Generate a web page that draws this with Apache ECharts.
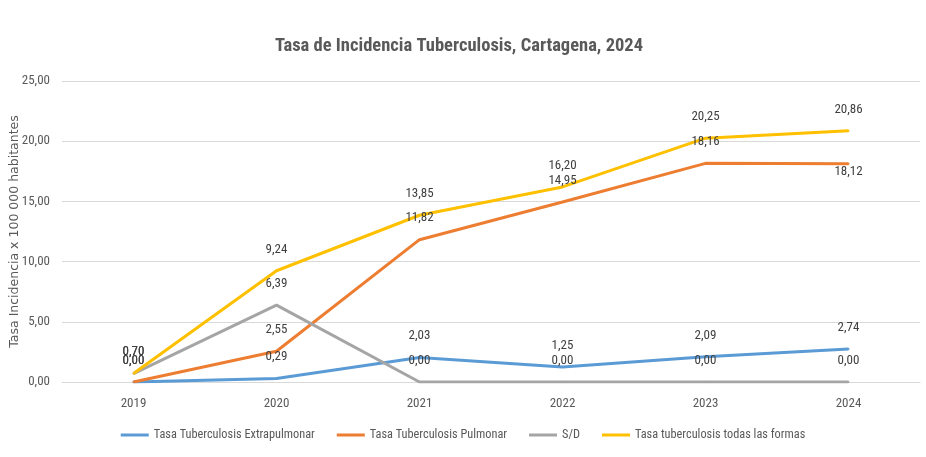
<!DOCTYPE html>
<html>
<head>
<meta charset="utf-8">
<script src="https://cdn.jsdelivr.net/npm/echarts@6/dist/echarts.min.js"></script>
<style>
  * { margin: 0; padding: 0; }
  body { background: #fff; }
</style>
</head>
<body>
<div id="main" style="width: 926px; height: 457px;"></div>
<script>
  // datos
  var years = ['2019', '2020', '2021', '2022', '2023', '2024']
  var extrapulmonar = [0.00, 0.29, 2.03, 1.25, 2.09, 2.74]
  var pulmonar = [0.00, 2.55, 11.82, 14.95, 18.16, 18.12]
  var sinDato = [0.70, 6.39, 0.00, 0.00, 0.00, 0.00]
  var todas = [0.70, 9.24, 13.85, 16.20, 20.25, 20.86]

  var narrow = "'Roboto Condensed', 'Open Sans Condensed', sans-serif"

  function fmt (v) {
    return Number(v).toFixed(2).replace('.', ',')
  }

  function serie (name, data, color) {
    return {
      name: name,
      type: 'line',
      data: data,
      showSymbol: true,
      symbol: 'circle',
      symbolSize: 2,
      lineStyle: { color: color, width: 3 },
      itemStyle: { color: color },
      label: {
        show: true,
        position: 'top',
        distance: 14,
        color: '#404040',
        fontFamily: narrow,
        fontSize: 13,
        formatter: function (p) { return fmt(p.value) }
      },
      z: 2
    }
  }

  var chart = echarts.init(document.getElementById('main'))

  var pulmonarSerie = serie('Tasa Tuberculosis Pulmonar', pulmonar, '#ED7D31')
  // la etiqueta de 2024 va debajo de la linea
  pulmonarSerie.data = pulmonar.map(function (v, i) {
    if (i === pulmonar.length - 1) {
      return { value: v, label: { position: 'bottom', distance: 0 } }
    }
    return v
  })

  chart.setOption({
    animation: false,
    title: {
      text: 'Tasa de Incidencia Tuberculosis, Cartagena, 2024',
      left: 454,
      textAlign: 'center',
      top: 32,
      textStyle: {
        color: '#595959',
        fontFamily: narrow,
        fontWeight: 'bold',
        fontSize: 18.5
      }
    },
    legend: {
      bottom: 11,
      left: 'center',
      icon: 'rect',
      itemWidth: 28,
      itemHeight: 3,
      itemGap: 22,
      textStyle: { color: '#595959', fontFamily: narrow, fontSize: 12.3 },
      data: ['Tasa Tuberculosis Extrapulmonar', 'Tasa Tuberculosis Pulmonar', 'S/D', 'Tasa tuberculosis todas las formas']
    },
    grid: {
      left: 62,
      right: 6,
      top: 81,
      height: 301,
      outerBoundsMode: 'none'
    },
    xAxis: {
      type: 'category',
      data: years,
      boundaryGap: true,
      axisLine: { show: true, lineStyle: { color: '#D9D9D9' } },
      axisTick: { show: false },
      axisLabel: { color: '#595959', fontFamily: narrow, fontSize: 13, margin: 15 }
    },
    yAxis: {
      type: 'value',
      min: 0,
      max: 25,
      interval: 5,
      name: 'Tasa Incidencia x 100 000 habitantes',
      nameLocation: 'middle',
      nameGap: 41,
      nameMoveOverlap: false,
      nameTextStyle: { color: '#595959', fontSize: 12.5, fontFamily: "'DejaVu Sans', sans-serif" },
      axisLine: { show: false },
      axisTick: { show: false },
      splitLine: { lineStyle: { color: '#D9D9D9' } },
      axisLabel: {
        color: '#595959',
        fontFamily: narrow,
        fontSize: 13,
        margin: 12,
        formatter: function (v) { return fmt(v) }
      }
    },
    series: [
      serie('Tasa Tuberculosis Extrapulmonar', extrapulmonar, '#5B9BD5'),
      pulmonarSerie,
      serie('S/D', sinDato, '#A5A5A5'),
      serie('Tasa tuberculosis todas las formas', todas, '#FFC000')
    ]
  })
</script>
</body>
</html>
